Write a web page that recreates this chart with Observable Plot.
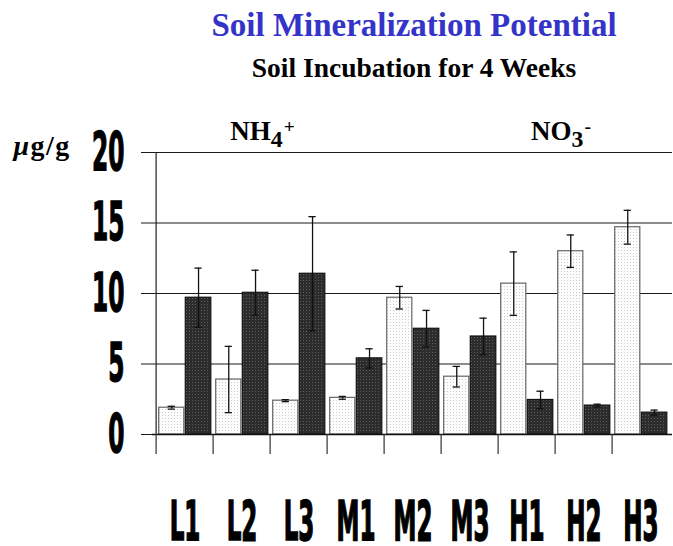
<!DOCTYPE html>
<html>
<head>
<meta charset="utf-8">
<script src="https://cdn.jsdelivr.net/npm/d3@7"></script>
<script src="https://cdn.jsdelivr.net/npm/@observablehq/plot@0.6"></script>
<style>
  body { margin: 0; background: #fff; }
  #wrap { position: relative; width: 673px; height: 546px; overflow: hidden; background: #fff; }
  #header { position: relative; width: 673px; height: 85px; }
  .ttl { position: absolute; left: 0; width: 673px; box-sizing: border-box; padding-left: 155px;
         text-align: center; white-space: nowrap; font-family: "Liberation Serif", "Times New Roman", serif; font-weight: bold; }
  #t1 { top: 9px; font-size: 33px; line-height: 33px; color: #3434c8; }
  #t2 { top: 54px; font-size: 27.5px; line-height: 27px; color: #000; }
  svg { display: block; }
</style>
</head>
<body>
<div id="wrap">
  <div id="header">
    <div class="ttl" id="t1">Soil Mineralization Potential</div>
    <div class="ttl" id="t2">Soil Incubation for 4 Weeks</div>
  </div>
  <div id="chart"></div>
</div>
<script>
// ---- data ----
const categories = ["L1", "L2", "L3", "M1", "M2", "M3", "H1", "H2", "H3"];
const no3Values  = [1.9, 3.9, 2.4, 2.6, 9.7, 4.1, 10.7, 13.0, 14.7];   // light bars
const no3Errors  = [0.1, 2.35, 0.07, 0.1, 0.8, 0.73, 2.25, 1.15, 1.2];
const nh4Values  = [9.7, 10.05, 11.4, 5.4, 7.5, 6.95, 2.45, 2.05, 1.55]; // dark bars
const nh4Errors  = [2.1, 1.6, 4.05, 0.68, 1.3, 1.3, 0.62, 0.1, 0.18];
const yTicks = [0, 5, 10, 15, 20];
const ionLabels = [
  {cat: "L2", main: "NH", sub: "4", sup: "+"},
  {cat: "H1", main: "NO", sub: "3", sup: "-"}
];
const unitLabel = {italic: "\u03bc", rest: "g/g"};

// ---- table built from the arrays ----
const rows = categories.map((c, i) => ({
  cat: c, no3: no3Values[i], no3e: no3Errors[i], nh4: nh4Values[i], nh4e: nh4Errors[i]
}));

const W = 673, H = 461;
const mL = 152, mR = 1, mT = 67, mB = 112;
const bw = (W - mL - mR) / categories.length;

const lightIn = {insetLeft: 2.7, insetRight: bw / 2 + 0.3};
const darkIn = {insetLeft: bw / 2 + 0.4, insetRight: 2.2};
const lightC = (lightIn.insetLeft + (bw - lightIn.insetRight)) / 2;
const darkC = (darkIn.insetLeft + (bw - darkIn.insetRight)) / 2;
const capHalf = 4;

const sansNarrow = "'Liberation Sans Narrow', 'Arial Narrow', 'DejaVu Sans Condensed', sans-serif";
const serif = "'Liberation Serif', 'Times New Roman', serif";
const errStroke = "#111";

const plot = Plot.plot({
  width: W, height: H,
  marginLeft: mL, marginRight: mR, marginTop: mT, marginBottom: mB,
  style: {background: "#fff", overflow: "visible"},
  x: {domain: categories, padding: 0, label: null},
  y: {domain: [0, 20], label: null},
  marks: [
    // horizontal gridlines
    Plot.ruleY(yTicks.filter(d => d > 0), {stroke: "#1a1a1a", strokeWidth: 1.1}),
    // y axis
    Plot.axisY({ticks: yTicks, tickSize: 11, tickPadding: 17, stroke: "#1a1a1a", label: null,
      fontSize: 35, fontWeight: "bold", fontFamily: sansNarrow, fill: "#000", className: "ylab"}),
    // bars
    Plot.barY(rows, {x: "cat", y: "no3", fill: "url(#lightDots)", stroke: "#666", strokeWidth: 1.2, ...lightIn}),
    Plot.barY(rows, {x: "cat", y: "nh4", fill: "url(#darkDots)", stroke: "#111", strokeWidth: 1.2, ...darkIn}),
    // error bars
    Plot.ruleX(rows, {x: "cat", y1: d => d.no3 - d.no3e, y2: d => d.no3 + d.no3e, dx: lightC - bw / 2, stroke: errStroke, strokeWidth: 1.3}),
    Plot.ruleX(rows, {x: "cat", y1: d => d.nh4 - d.nh4e, y2: d => d.nh4 + d.nh4e, dx: darkC - bw / 2, stroke: errStroke, strokeWidth: 1.3}),
    Plot.tickY(rows, {x: "cat", y: d => d.no3 + d.no3e, insetLeft: lightC - capHalf, insetRight: bw - lightC - capHalf, stroke: errStroke, strokeWidth: 1.3}),
    Plot.tickY(rows, {x: "cat", y: d => d.no3 - d.no3e, insetLeft: lightC - capHalf, insetRight: bw - lightC - capHalf, stroke: errStroke, strokeWidth: 1.3}),
    Plot.tickY(rows, {x: "cat", y: d => d.nh4 + d.nh4e, insetLeft: darkC - capHalf, insetRight: bw - darkC - capHalf, stroke: errStroke, strokeWidth: 1.3}),
    Plot.tickY(rows, {x: "cat", y: d => d.nh4 - d.nh4e, insetLeft: darkC - capHalf, insetRight: bw - darkC - capHalf, stroke: errStroke, strokeWidth: 1.3}),
    // baseline and vertical axis line
    Plot.ruleY([0], {stroke: "#111", strokeWidth: 1.3}),
    Plot.ruleX([categories[0]], {dx: -bw / 2, stroke: "#222", strokeWidth: 1.2}),
    // category separators below the axis
    Plot.axisX({tickSize: 20, tickPadding: 0, dx: -bw / 2, tickFormat: () => "", label: null, stroke: "#333", strokeWidth: 1.2}),
    // category labels
    Plot.axisX({tickSize: 0, tickPadding: 66, fontSize: 32, fontWeight: "bold", fontFamily: sansNarrow, label: null,
      fill: "#000", className: "xlab"}),
    // ion labels
    Plot.text(ionLabels, {x: "cat", text: d => d.main + d.sub + d.sup, frameAnchor: "top",
      lineAnchor: "middle", textAnchor: "start", dy: -21.5,
      fontSize: 27, fontWeight: "bold", fontFamily: serif, fill: "#000", className: "ion"}),
    // unit label
    Plot.text([unitLabel], {text: d => d.italic + d.rest, frameAnchor: "top-left", dx: -139, dy: -6,
      lineAnchor: "middle", textAnchor: "start", fontSize: 28, fontWeight: "bold", fontFamily: serif,
      fill: "#000", className: "unit"})
  ]
});

// ---- post-processing: patterns, stretched tick text, sub/superscripts ----
const svg = d3.select(plot);
const defs = svg.insert("defs", ":first-child");
const lp = defs.append("pattern").attr("id", "lightDots").attr("patternUnits", "userSpaceOnUse").attr("width", 3).attr("height", 3);
lp.append("rect").attr("width", 3).attr("height", 3).attr("fill", "#fdfdfd");
lp.append("rect").attr("width", 1).attr("height", 1).attr("fill", "#cbcbcb");
const dp = defs.append("pattern").attr("id", "darkDots").attr("patternUnits", "userSpaceOnUse").attr("width", 3).attr("height", 3);
dp.append("rect").attr("width", 3).attr("height", 3).attr("fill", "#2c2c2c");
dp.append("rect").attr("width", 1).attr("height", 1).attr("fill", "#5e5e5e");

// tick labels in the reference are a tall, narrow, heavy face: compress horizontally, stretch vertically, thicken
function stretch(sel, sx, sy) {
  sel.each(function () {
    const t = d3.select(this);
    const tr = t.attr("transform") || "";
    t.attr("transform", tr + ` scale(${sx},${sy})`)
     .attr("stroke", "#000").attr("stroke-width", 0.9).attr("paint-order", "stroke");
  });
}
stretch(svg.selectAll("g.ylab text"), 0.74, 1.52);
stretch(svg.selectAll("g.xlab text"), 0.8, 1.74);

// ion labels with subscript / superscript
const ionPos = {L2: -11.7, H1: 4};
svg.selectAll("g.ion text").each(function (_, i) {
  const lab = ionLabels[i];
  const t = d3.select(this);
  t.text(null);
  t.attr("transform", (t.attr("transform") || "") + ` translate(${ionPos[lab.cat]},0)`);
  t.append("tspan").text(lab.main);
  t.append("tspan").attr("dy", "0.3em").attr("font-size", "0.88em").text(lab.sub);
  t.append("tspan").attr("dy", "-0.72em").attr("font-size", "0.72em").attr("dx", "0.06em").text(lab.sup);
});
svg.selectAll("g.unit text").each(function () {
  const t = d3.select(this);
  t.text(null);
  t.attr("letter-spacing", "1.5px");
  t.append("tspan").attr("font-style", "italic").text(unitLabel.italic);
  t.append("tspan").text(unitLabel.rest);
});

document.getElementById("chart").appendChild(plot);
</script>
</body>
</html>
